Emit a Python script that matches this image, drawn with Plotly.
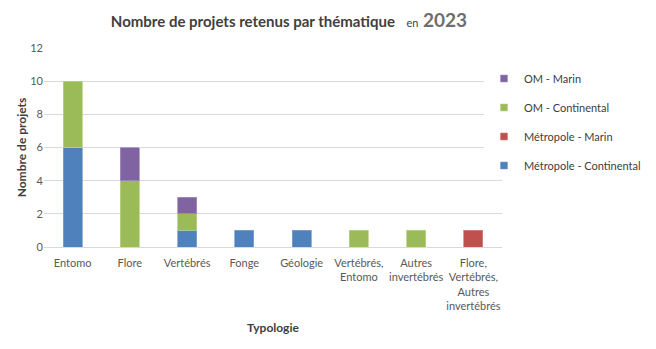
import plotly.graph_objects as go

categories = ["Entomo", "Flore", "Vertébrés", "Fonge", "Géologie",
              "Vertébrés,<br>Entomo", "Autres<br>invertébrés",
              "Flore,<br>Vertébrés,<br>Autres<br>invertébrés"]

metro_continental = [6, 0, 1, 1, 1, 0, 0, 0]
metro_marin = [0, 0, 0, 0, 0, 0, 0, 1]
om_continental = [4, 4, 1, 0, 0, 1, 1, 0]
om_marin = [0, 2, 1, 0, 0, 0, 0, 0]

series = [
    ("Métropole - Continental", metro_continental, "#4F81BD", "#7DA2D0"),
    ("Métropole - Marin", metro_marin, "#C0504D", "#D58381"),
    ("OM - Continental", om_continental, "#9BBB59", "#BAD28A"),
    ("OM - Marin", om_marin, "#8064A2", "#A490BE"),
]

fig = go.Figure()
for name, vals, color, edge in series:
    # empty segments are skipped so their outline is not drawn as a thin line
    shown = [v if v else None for v in vals]
    fig.add_trace(go.Bar(
        x=categories, y=shown, name=name, legendgroup=name, showlegend=False,
        marker=dict(color=color, line=dict(color=edge, width=0.8)),
    ))

# small square swatches for the legend, top entry = top of the stack
for name, vals, color, edge in reversed(series):
    fig.add_trace(go.Scatter(
        x=[None], y=[None], mode="markers", name=name, legendgroup=name,
        marker=dict(symbol="square", size=7, color=color, line=dict(color=edge, width=0.6)),
    ))

font_family = "Lato, 'Liberation Sans', sans-serif"

fig.update_layout(
    width=656, height=349,
    barmode="stack", bargap=0.67,
    paper_bgcolor="white", plot_bgcolor="white",
    margin=dict(l=44, r=154, t=48, b=102, autoexpand=False),
    font=dict(family=font_family, size=11, color="#595959"),
    title=dict(
        text="<b>Nombre de projets retenus par thématique</b>"
             "   <span style='font-size:11px;color:#404040'>en</span>"
             "<span style='font-size:19px;color:#6E6E6E'><b> 2023</b></span>",
        x=289 / 656, xanchor="center", xref="container",
        y=1 - 22 / 349, yanchor="middle", yref="container",
        font=dict(family=font_family, size=15, color="#404040"),
    ),
    xaxis=dict(
        showgrid=False, showline=False, ticks="", tickangle=0,
        ticklabelstandoff=8,
        tickfont=dict(size=11, color="#595959"),
        title=dict(text="<b>Typologie</b>", font=dict(size=12, color="#404040"), standoff=12),
        automargin=False,
    ),
    yaxis=dict(
        range=[0, 12], dtick=2, showgrid=True, gridcolor="#D9D9D9", gridwidth=1,
        zeroline=True, zerolinecolor="#D9D9D9", zerolinewidth=1,
        ticks="", tickfont=dict(size=11, color="#595959"),
        title=dict(text="<b>Nombre de projets</b>", font=dict(size=12, color="#404040"), standoff=1),
        automargin=False,
    ),
    legend=dict(
        xref="container", yref="container",
        x=484 / 656, xanchor="left", y=1 - 64 / 349, yanchor="top",
        traceorder="grouped", tracegroupgap=10,
        font=dict(size=11, color="#404040"),
        itemwidth=30,
    ),
)

fig.write_html("out.html")
